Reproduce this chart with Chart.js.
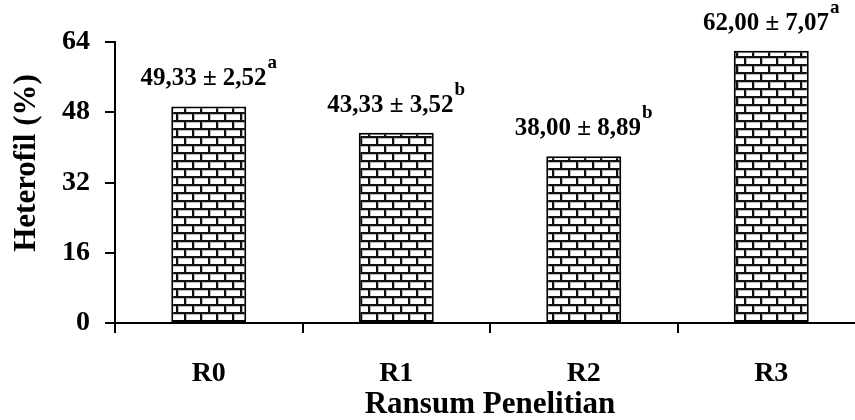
<!DOCTYPE html>
<html>
<head>
<meta charset="utf-8">
<script src="https://cdn.jsdelivr.net/npm/chart.js@4"></script>
<style>
  html, body { margin: 0; padding: 0; overflow: hidden; background: #fff; }
  #wrap { width: 880px; height: 420px; }
</style>
</head>
<body>
<div id="wrap"><canvas id="chart" width="880" height="420"></canvas></div>
<script>
// Heterophil percentage per ration treatment
const categories = ['R0', 'R1', 'R2', 'R3'];
const heterofil = [49.33, 43.33, 38.00, 62.00];
const stdev = [2.52, 3.52, 8.89, 7.07];
const notation = ['a', 'b', 'b', 'a'];
const yTicks = [0, 16, 32, 48, 64];
const yTitle = 'Heterofil (%)';
const xTitle = 'Ransum Penelitian';

const FONT = '"Liberation Serif", "Times New Roman", serif';

const canvas = document.getElementById('chart');
const ctx = canvas.getContext('2d');

// Brick fill for the bars
function brickPattern() {
  const t = document.createElement('canvas');
  t.width = 16; t.height = 16;
  const g = t.getContext('2d');
  g.fillStyle = '#fff';
  g.fillRect(0, 0, 16, 16);
  g.fillStyle = '#bdbdbd';
  g.fillRect(0, 2, 16, 1);
  g.fillRect(0, 10, 16, 1);
  g.fillRect(2, 2, 1, 6);
  g.fillRect(10, 10, 1, 6);
  g.fillStyle = '#111';
  g.fillRect(0, 0, 16, 2);
  g.fillRect(0, 8, 16, 2);
  g.fillRect(0, 0, 2, 8);
  g.fillRect(8, 8, 2, 8);
  return ctx.createPattern(t, 'repeat');
}

function fmt(v) {
  return v.toFixed(2).replace('.', ',');
}

// Mean ± SD with significance letter above each bar
const valueLabels = {
  id: 'valueLabels',
  afterDatasetsDraw(chart) {
    const c = chart.ctx;
    const meta = chart.getDatasetMeta(0);
    c.save();
    c.fillStyle = '#000';
    c.textAlign = 'left';
    c.textBaseline = 'alphabetic';
    meta.data.forEach((bar, i) => {
      const main = fmt(heterofil[i]) + ' \u00b1 ' + fmt(stdev[i]);
      c.font = 'bold 25px ' + FONT;
      const w1 = c.measureText(main).width;
      c.font = 'bold 19px ' + FONT;
      const w2 = c.measureText(notation[i]).width;
      const x0 = bar.x - (w1 + w2 + 1) / 2;
      const yb = bar.y - 21;
      c.font = 'bold 25px ' + FONT;
      c.fillText(main, x0, yb);
      c.font = 'bold 19px ' + FONT;
      c.fillText(notation[i], x0 + w1 + 1, yb - 17);
    });
    c.restore();
  }
};

// Vertical axis title
const yAxisTitle = {
  id: 'yAxisTitle',
  afterDraw(chart) {
    const c = chart.ctx;
    c.save();
    c.translate(27, 163);
    c.rotate(-Math.PI / 2);
    c.font = 'bold 31px ' + FONT;
    c.fillStyle = '#000';
    c.textAlign = 'center';
    c.textBaseline = 'middle';
    c.fillText(yTitle, 0, 0);
    c.restore();
  }
};

new Chart(ctx, {
  type: 'bar',
  data: {
    labels: categories,
    datasets: [{
      data: heterofil,
      backgroundColor: brickPattern(),
      borderColor: '#000',
      borderWidth: 2,
      borderSkipped: false,
      categoryPercentage: 1,
      barPercentage: 0.4
    }]
  },
  options: {
    responsive: false,
    animation: false,
    layout: { padding: { top: 42, right: 15, bottom: 0, left: 0 } },
    plugins: {
      legend: { display: false },
      tooltip: { enabled: false }
    },
    scales: {
      x: {
        type: 'category',
        offset: true,
        grid: {
          offset: true,
          drawOnChartArea: false,
          drawTicks: true,
          tickLength: 10,
          color: '#000',
          lineWidth: 2
        },
        border: { display: true, color: '#000', width: 2 },
        ticks: {
          color: '#000',
          padding: 24,
          font: { family: FONT, size: 28, weight: 'bold' }
        },
        title: {
          display: true,
          text: xTitle,
          color: '#000',
          padding: { top: 0, bottom: -4 },
          font: { family: FONT, size: 31, weight: 'bold' }
        },
        afterFit(scale) { scale.height = 97; }
      },
      y: {
        min: 0,
        max: 64,
        afterBuildTicks(scale) { scale.ticks = yTicks.map(v => ({ value: v })); },
        grid: {
          drawOnChartArea: false,
          drawTicks: true,
          tickLength: 10,
          color: '#000',
          lineWidth: 2
        },
        border: { display: true, color: '#000', width: 2 },
        ticks: {
          color: '#000',
          padding: 15,
          font: { family: FONT, size: 28, weight: 'bold' }
        },
        afterFit(scale) { scale.width = 115; }
      }
    }
  },
  plugins: [valueLabels, yAxisTitle]
});
</script>
</body>
</html>
